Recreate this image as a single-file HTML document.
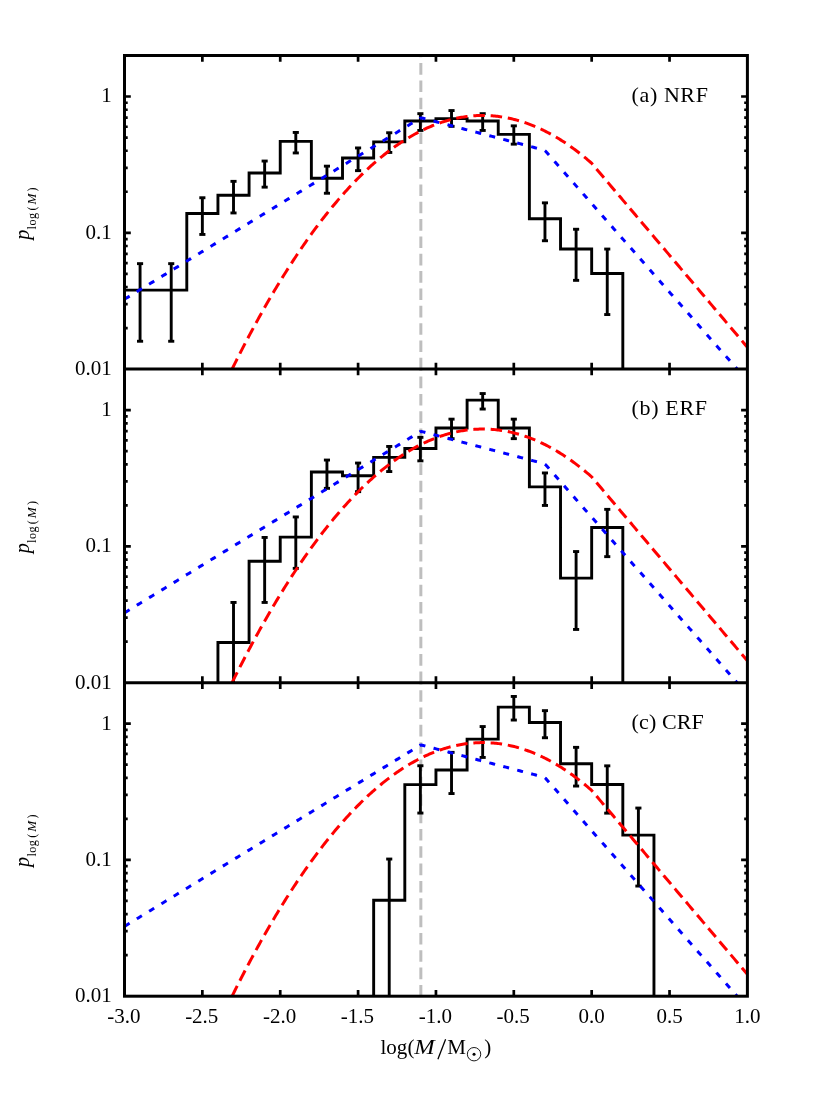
<!DOCTYPE html>
<html><head><meta charset="utf-8"><title>IMF</title>
<style>html,body{margin:0;padding:0;background:#fff}svg{display:block;will-change:transform}</style></head>
<body>
<svg width="830" height="1107" viewBox="0 0 830 1107">
<rect width="830" height="1107" fill="#fff"/>
<g>
<line x1="420.84" y1="369.42" x2="420.84" y2="55.50" stroke="#bebebe" stroke-width="3" stroke-dasharray="11.6 5.74"/>
<path d="M124.50,290.15 L124.50,290.15 L155.65,290.15 L155.65,290.15 L186.79,290.15 L186.79,213.45 L217.94,213.45 L217.94,195.25 L249.08,195.25 L249.08,172.95 L280.23,172.95 L280.23,141.35 L311.37,141.35 L311.37,178.25 L342.51,178.25 L342.51,158.05 L373.66,158.05 L373.66,141.85 L404.81,141.85 L404.81,120.95 L435.95,120.95 L435.95,118.65 L467.10,118.65 L467.10,120.95 L498.24,120.95 L498.24,134.35 L529.38,134.35 L529.38,218.75 L560.53,218.75 L560.53,248.95 L591.67,248.95 L591.67,273.55 L622.82,273.55 L622.82,369.07" fill="none" stroke="#000" stroke-width="2.9" stroke-linejoin="miter"/>
<line x1="140.07" y1="263.65" x2="140.07" y2="341.25" stroke="#000" stroke-width="2.9"/>
<line x1="137.02" y1="263.65" x2="143.12" y2="263.65" stroke="#000" stroke-width="2.9"/>
<line x1="137.02" y1="341.25" x2="143.12" y2="341.25" stroke="#000" stroke-width="2.9"/>
<line x1="171.22" y1="263.65" x2="171.22" y2="341.25" stroke="#000" stroke-width="2.9"/>
<line x1="168.17" y1="263.65" x2="174.27" y2="263.65" stroke="#000" stroke-width="2.9"/>
<line x1="168.17" y1="341.25" x2="174.27" y2="341.25" stroke="#000" stroke-width="2.9"/>
<line x1="202.36" y1="197.75" x2="202.36" y2="234.45" stroke="#000" stroke-width="2.9"/>
<line x1="199.31" y1="197.75" x2="205.41" y2="197.75" stroke="#000" stroke-width="2.9"/>
<line x1="199.31" y1="234.45" x2="205.41" y2="234.45" stroke="#000" stroke-width="2.9"/>
<line x1="233.51" y1="181.35" x2="233.51" y2="212.95" stroke="#000" stroke-width="2.9"/>
<line x1="230.46" y1="181.35" x2="236.56" y2="181.35" stroke="#000" stroke-width="2.9"/>
<line x1="230.46" y1="212.95" x2="236.56" y2="212.95" stroke="#000" stroke-width="2.9"/>
<line x1="264.65" y1="161.05" x2="264.65" y2="187.15" stroke="#000" stroke-width="2.9"/>
<line x1="261.60" y1="161.05" x2="267.70" y2="161.05" stroke="#000" stroke-width="2.9"/>
<line x1="261.60" y1="187.15" x2="267.70" y2="187.15" stroke="#000" stroke-width="2.9"/>
<line x1="295.80" y1="132.45" x2="295.80" y2="152.95" stroke="#000" stroke-width="2.9"/>
<line x1="292.75" y1="132.45" x2="298.85" y2="132.45" stroke="#000" stroke-width="2.9"/>
<line x1="292.75" y1="152.95" x2="298.85" y2="152.95" stroke="#000" stroke-width="2.9"/>
<line x1="326.94" y1="166.15" x2="326.94" y2="193.25" stroke="#000" stroke-width="2.9"/>
<line x1="323.89" y1="166.15" x2="329.99" y2="166.15" stroke="#000" stroke-width="2.9"/>
<line x1="323.89" y1="193.25" x2="329.99" y2="193.25" stroke="#000" stroke-width="2.9"/>
<line x1="358.09" y1="147.95" x2="358.09" y2="170.65" stroke="#000" stroke-width="2.9"/>
<line x1="355.04" y1="147.95" x2="361.14" y2="147.95" stroke="#000" stroke-width="2.9"/>
<line x1="355.04" y1="170.65" x2="361.14" y2="170.65" stroke="#000" stroke-width="2.9"/>
<line x1="389.23" y1="132.75" x2="389.23" y2="152.45" stroke="#000" stroke-width="2.9"/>
<line x1="386.18" y1="132.75" x2="392.28" y2="132.75" stroke="#000" stroke-width="2.9"/>
<line x1="386.18" y1="152.45" x2="392.28" y2="152.45" stroke="#000" stroke-width="2.9"/>
<line x1="420.38" y1="113.65" x2="420.38" y2="130.45" stroke="#000" stroke-width="2.9"/>
<line x1="417.33" y1="113.65" x2="423.43" y2="113.65" stroke="#000" stroke-width="2.9"/>
<line x1="417.33" y1="130.45" x2="423.43" y2="130.45" stroke="#000" stroke-width="2.9"/>
<line x1="451.52" y1="110.55" x2="451.52" y2="126.35" stroke="#000" stroke-width="2.9"/>
<line x1="448.47" y1="110.55" x2="454.57" y2="110.55" stroke="#000" stroke-width="2.9"/>
<line x1="448.47" y1="126.35" x2="454.57" y2="126.35" stroke="#000" stroke-width="2.9"/>
<line x1="482.67" y1="113.65" x2="482.67" y2="130.45" stroke="#000" stroke-width="2.9"/>
<line x1="479.62" y1="113.65" x2="485.72" y2="113.65" stroke="#000" stroke-width="2.9"/>
<line x1="479.62" y1="130.45" x2="485.72" y2="130.45" stroke="#000" stroke-width="2.9"/>
<line x1="513.81" y1="125.85" x2="513.81" y2="144.15" stroke="#000" stroke-width="2.9"/>
<line x1="510.76" y1="125.85" x2="516.86" y2="125.85" stroke="#000" stroke-width="2.9"/>
<line x1="510.76" y1="144.15" x2="516.86" y2="144.15" stroke="#000" stroke-width="2.9"/>
<line x1="544.96" y1="202.85" x2="544.96" y2="240.75" stroke="#000" stroke-width="2.9"/>
<line x1="541.91" y1="202.85" x2="548.01" y2="202.85" stroke="#000" stroke-width="2.9"/>
<line x1="541.91" y1="240.75" x2="548.01" y2="240.75" stroke="#000" stroke-width="2.9"/>
<line x1="576.10" y1="229.25" x2="576.10" y2="280.35" stroke="#000" stroke-width="2.9"/>
<line x1="573.05" y1="229.25" x2="579.15" y2="229.25" stroke="#000" stroke-width="2.9"/>
<line x1="573.05" y1="280.35" x2="579.15" y2="280.35" stroke="#000" stroke-width="2.9"/>
<line x1="607.25" y1="249.05" x2="607.25" y2="314.55" stroke="#000" stroke-width="2.9"/>
<line x1="604.20" y1="249.05" x2="610.30" y2="249.05" stroke="#000" stroke-width="2.9"/>
<line x1="604.20" y1="314.55" x2="610.30" y2="314.55" stroke="#000" stroke-width="2.9"/>
<path d="M124.50,299.24 L126.03,298.31 L127.56,297.37 L129.09,296.43 L130.63,295.49 L132.16,294.55 L133.69,293.61 L135.22,292.68 L136.75,291.74 L138.28,290.80 L139.82,289.86 L141.35,288.92 L142.88,287.99 L144.41,287.05 L145.94,286.11 L147.47,285.17 L149.01,284.23 L150.54,283.29 L152.07,282.36 L153.60,281.42 L155.13,280.48 L156.66,279.54 L158.20,278.60 L159.73,277.67 L161.26,276.73 L162.79,275.79 L164.32,274.85 L165.85,273.91 L167.39,272.97 L168.92,272.04 L170.45,271.10 L171.98,270.16 L173.51,269.22 L175.04,268.28 L176.57,267.35 L178.11,266.41 L179.64,265.47 L181.17,264.53 L182.70,263.59 L184.23,262.65 L185.76,261.72 L187.30,260.78 L188.83,259.84 L190.36,258.90 L191.89,257.96 L193.42,257.02 L194.95,256.09 L196.49,255.15 L198.02,254.21 L199.55,253.27 L201.08,252.33 L202.61,251.40 L204.14,250.46 L205.68,249.52 L207.21,248.58 L208.74,247.64 L210.27,246.70 L211.80,245.77 L213.33,244.83 L214.86,243.89 L216.40,242.95 L217.93,242.01 L219.46,241.08 L220.99,240.14 L222.52,239.20 L224.05,238.26 L225.59,237.32 L227.12,236.38 L228.65,235.45 L230.18,234.51 L231.71,233.57 L233.24,232.63 L234.78,231.69 L236.31,230.76 L237.84,229.82 L239.37,228.88 L240.90,227.94 L242.43,227.00 L243.97,226.06 L245.50,225.13 L247.03,224.19 L248.56,223.25 L250.09,222.31 L251.62,221.37 L253.16,220.44 L254.69,219.50 L256.22,218.56 L257.75,217.62 L259.28,216.68 L260.81,215.74 L262.34,214.81 L263.88,213.87 L265.41,212.93 L266.94,211.99 L268.47,211.05 L270.00,210.11 L271.53,209.18 L273.07,208.24 L274.60,207.30 L276.13,206.36 L277.66,205.42 L279.19,204.49 L280.72,203.55 L282.26,202.61 L283.79,201.67 L285.32,200.73 L286.85,199.79 L288.38,198.86 L289.91,197.92 L291.45,196.98 L292.98,196.04 L294.51,195.10 L296.04,194.17 L297.57,193.23 L299.10,192.29 L300.63,191.35 L302.17,190.41 L303.70,189.47 L305.23,188.54 L306.76,187.60 L308.29,186.66 L309.82,185.72 L311.36,184.78 L312.89,183.85 L314.42,182.91 L315.95,181.97 L317.48,181.03 L319.01,180.09 L320.55,179.15 L322.08,178.22 L323.61,177.28 L325.14,176.34 L326.67,175.40 L328.20,174.46 L329.74,173.53 L331.27,172.59 L332.80,171.65 L334.33,170.71 L335.86,169.77 L337.39,168.83 L338.93,167.90 L340.46,166.96 L341.99,166.02 L343.52,165.08 L345.05,164.14 L346.58,163.20 L348.11,162.27 L349.65,161.33 L351.18,160.39 L352.71,159.45 L354.24,158.51 L355.77,157.58 L357.30,156.64 L358.84,155.70 L360.37,154.76 L361.90,153.82 L363.43,152.88 L364.96,151.95 L366.49,151.01 L368.03,150.07 L369.56,149.13 L371.09,148.19 L372.62,147.26 L374.15,146.32 L375.68,145.38 L377.22,144.44 L378.75,143.50 L380.28,142.56 L381.81,141.63 L383.34,140.69 L384.87,139.75 L386.41,138.81 L387.94,137.87 L389.47,136.94 L391.00,136.00 L392.53,135.06 L394.06,134.12 L395.59,133.18 L397.13,132.24 L398.66,131.31 L400.19,130.37 L401.72,129.43 L403.25,128.49 L404.78,127.55 L406.32,126.62 L407.85,125.68 L409.38,124.74 L410.91,123.80 L412.44,122.86 L413.97,121.92 L415.51,120.99 L417.04,120.05 L418.57,119.11 L420.10,118.17 L421.63,117.92 L423.16,118.32 L424.70,118.73 L426.23,119.13 L427.76,119.53 L429.29,119.93 L430.82,120.33 L432.35,120.74 L433.88,121.14 L435.42,121.54 L436.95,121.94 L438.48,122.35 L440.01,122.75 L441.54,123.15 L443.07,123.55 L444.61,123.95 L446.14,124.36 L447.67,124.76 L449.20,125.16 L450.73,125.56 L452.26,125.96 L453.80,126.37 L455.33,126.77 L456.86,127.17 L458.39,127.57 L459.92,127.97 L461.45,128.38 L462.99,128.78 L464.52,129.18 L466.05,129.58 L467.58,129.98 L469.11,130.39 L470.64,130.79 L472.18,131.19 L473.71,131.59 L475.24,132.00 L476.77,132.40 L478.30,132.80 L479.83,133.20 L481.36,133.60 L482.90,134.01 L484.43,134.41 L485.96,134.81 L487.49,135.21 L489.02,135.61 L490.55,136.02 L492.09,136.42 L493.62,136.82 L495.15,137.22 L496.68,137.62 L498.21,138.03 L499.74,138.43 L501.28,138.83 L502.81,139.23 L504.34,139.63 L505.87,140.04 L507.40,140.44 L508.93,140.84 L510.47,141.24 L512.00,141.65 L513.53,142.05 L515.06,142.45 L516.59,142.85 L518.12,143.25 L519.65,143.66 L521.19,144.06 L522.72,144.46 L524.25,144.86 L525.78,145.26 L527.31,145.67 L528.84,146.07 L530.38,146.47 L531.91,146.87 L533.44,147.27 L534.97,147.68 L536.50,148.08 L538.03,148.48 L539.57,148.88 L541.10,149.28 L542.63,149.69 L544.16,150.09 L545.69,151.27 L547.22,153.01 L548.76,154.76 L550.29,156.50 L551.82,158.24 L553.35,159.98 L554.88,161.72 L556.41,163.47 L557.95,165.21 L559.48,166.95 L561.01,168.69 L562.54,170.44 L564.07,172.18 L565.60,173.92 L567.13,175.66 L568.67,177.41 L570.20,179.15 L571.73,180.89 L573.26,182.63 L574.79,184.38 L576.32,186.12 L577.86,187.86 L579.39,189.60 L580.92,191.34 L582.45,193.09 L583.98,194.83 L585.51,196.57 L587.05,198.31 L588.58,200.06 L590.11,201.80 L591.64,203.54 L593.17,205.28 L594.70,207.03 L596.24,208.77 L597.77,210.51 L599.30,212.25 L600.83,214.00 L602.36,215.74 L603.89,217.48 L605.43,219.22 L606.96,220.97 L608.49,222.71 L610.02,224.45 L611.55,226.19 L613.08,227.93 L614.61,229.68 L616.15,231.42 L617.68,233.16 L619.21,234.90 L620.74,236.65 L622.27,238.39 L623.80,240.13 L625.34,241.87 L626.87,243.62 L628.40,245.36 L629.93,247.10 L631.46,248.84 L632.99,250.59 L634.53,252.33 L636.06,254.07 L637.59,255.81 L639.12,257.55 L640.65,259.30 L642.18,261.04 L643.72,262.78 L645.25,264.52 L646.78,266.27 L648.31,268.01 L649.84,269.75 L651.37,271.49 L652.90,273.24 L654.44,274.98 L655.97,276.72 L657.50,278.46 L659.03,280.21 L660.56,281.95 L662.09,283.69 L663.63,285.43 L665.16,287.18 L666.69,288.92 L668.22,290.66 L669.75,292.40 L671.28,294.14 L672.82,295.89 L674.35,297.63 L675.88,299.37 L677.41,301.11 L678.94,302.86 L680.47,304.60 L682.01,306.34 L683.54,308.08 L685.07,309.83 L686.60,311.57 L688.13,313.31 L689.66,315.05 L691.20,316.80 L692.73,318.54 L694.26,320.28 L695.79,322.02 L697.32,323.77 L698.85,325.51 L700.38,327.25 L701.92,328.99 L703.45,330.73 L704.98,332.48 L706.51,334.22 L708.04,335.96 L709.57,337.70 L711.11,339.45 L712.64,341.19 L714.17,342.93 L715.70,344.67 L717.23,346.42 L718.76,348.16 L720.30,349.90 L721.83,351.64 L723.36,353.39 L724.89,355.13 L726.42,356.87 L727.95,358.61 L729.49,360.35 L731.02,362.10 L732.55,363.84 L734.08,365.58 L735.61,367.32 L737.14,369.07" fill="none" stroke="#0000ff" stroke-width="3" stroke-dasharray="6 8.42"/>
<path d="M232.09,369.07 L233.38,366.47 L234.67,363.88 L235.96,361.31 L237.24,358.75 L238.53,356.20 L239.82,353.67 L241.11,351.15 L242.40,348.65 L243.69,346.16 L244.97,343.68 L246.26,341.21 L247.55,338.76 L248.84,336.32 L250.13,333.90 L251.42,331.48 L252.70,329.09 L253.99,326.70 L255.28,324.33 L256.57,321.97 L257.86,319.63 L259.14,317.29 L260.43,314.98 L261.72,312.67 L263.01,310.38 L264.30,308.10 L265.59,305.84 L266.87,303.59 L268.16,301.35 L269.45,299.12 L270.74,296.91 L272.03,294.72 L273.32,292.53 L274.60,290.36 L275.89,288.20 L277.18,286.06 L278.47,283.93 L279.76,281.81 L281.05,279.71 L282.33,277.62 L283.62,275.54 L284.91,273.48 L286.20,271.43 L287.49,269.39 L288.78,267.37 L290.06,265.36 L291.35,263.36 L292.64,261.38 L293.93,259.41 L295.22,257.45 L296.50,255.51 L297.79,253.58 L299.08,251.66 L300.37,249.76 L301.66,247.87 L302.95,245.99 L304.23,244.13 L305.52,242.28 L306.81,240.44 L308.10,238.62 L309.39,236.81 L310.68,235.01 L311.96,233.23 L313.25,231.46 L314.54,229.71 L315.83,227.96 L317.12,226.24 L318.41,224.52 L319.69,222.82 L320.98,221.13 L322.27,219.45 L323.56,217.79 L324.85,216.14 L326.14,214.51 L327.42,212.89 L328.71,211.28 L330.00,209.68 L331.29,208.10 L332.58,206.53 L333.86,204.98 L335.15,203.44 L336.44,201.91 L337.73,200.39 L339.02,198.89 L340.31,197.40 L341.59,195.93 L342.88,194.47 L344.17,193.02 L345.46,191.59 L346.75,190.17 L348.04,188.76 L349.32,187.36 L350.61,185.98 L351.90,184.62 L353.19,183.26 L354.48,181.92 L355.77,180.59 L357.05,179.28 L358.34,177.98 L359.63,176.69 L360.92,175.42 L362.21,174.16 L363.50,172.91 L364.78,171.68 L366.07,170.46 L367.36,169.25 L368.65,168.06 L369.94,166.88 L371.22,165.71 L372.51,164.56 L373.80,163.42 L375.09,162.29 L376.38,161.18 L377.67,160.08 L378.95,158.99 L380.24,157.92 L381.53,156.86 L382.82,155.81 L384.11,154.78 L385.40,153.76 L386.68,152.76 L387.97,151.76 L389.26,150.78 L390.55,149.82 L391.84,148.87 L393.13,147.93 L394.41,147.00 L395.70,146.09 L396.99,145.19 L398.28,144.31 L399.57,143.43 L400.85,142.58 L402.14,141.73 L403.43,140.90 L404.72,140.08 L406.01,139.27 L407.30,138.48 L408.58,137.70 L409.87,136.94 L411.16,136.19 L412.45,135.45 L413.74,134.73 L415.03,134.01 L416.31,133.32 L417.60,132.63 L418.89,131.96 L420.18,131.30 L421.47,130.66 L422.76,130.03 L424.04,129.41 L425.33,128.81 L426.62,128.21 L427.91,127.64 L429.20,127.07 L430.49,126.52 L431.77,125.99 L433.06,125.46 L434.35,124.95 L435.64,124.45 L436.93,123.97 L438.21,123.50 L439.50,123.04 L440.79,122.60 L442.08,122.17 L443.37,121.75 L444.66,121.35 L445.94,120.96 L447.23,120.58 L448.52,120.22 L449.81,119.87 L451.10,119.53 L452.39,119.21 L453.67,118.90 L454.96,118.60 L456.25,118.32 L457.54,118.05 L458.83,117.80 L460.12,117.55 L461.40,117.32 L462.69,117.11 L463.98,116.90 L465.27,116.72 L466.56,116.54 L467.85,116.38 L469.13,116.23 L470.42,116.09 L471.71,115.97 L473.00,115.86 L474.29,115.77 L475.57,115.68 L476.86,115.62 L478.15,115.56 L479.44,115.52 L480.73,115.49 L482.02,115.48 L483.30,115.47 L484.59,115.49 L485.88,115.51 L487.17,115.55 L488.46,115.60 L489.75,115.67 L491.03,115.74 L492.32,115.84 L493.61,115.94 L494.90,116.06 L496.19,116.19 L497.48,116.34 L498.76,116.50 L500.05,116.67 L501.34,116.86 L502.63,117.05 L503.92,117.27 L505.20,117.49 L506.49,117.73 L507.78,117.99 L509.07,118.25 L510.36,118.53 L511.65,118.82 L512.93,119.13 L514.22,119.45 L515.51,119.78 L516.80,120.13 L518.09,120.49 L519.38,120.86 L520.66,121.25 L521.95,121.65 L523.24,122.06 L524.53,122.49 L525.82,122.93 L527.11,123.38 L528.39,123.85 L529.68,124.33 L530.97,124.82 L532.26,125.33 L533.55,125.85 L534.84,126.39 L536.12,126.93 L537.41,127.49 L538.70,128.07 L539.99,128.65 L541.28,129.26 L542.56,129.87 L543.85,130.50 L545.14,131.14 L546.43,131.79 L547.72,132.46 L549.01,133.14 L550.29,133.84 L551.58,134.54 L552.87,135.27 L554.16,136.00 L555.45,136.75 L556.74,137.51 L558.02,138.28 L559.31,139.07 L560.60,139.87 L561.89,140.69 L563.18,141.52 L564.47,142.36 L565.75,143.22 L567.04,144.08 L568.33,144.97 L569.62,145.86 L570.91,146.77 L572.20,147.69 L573.48,148.63 L574.77,149.58 L576.06,150.54 L577.35,151.51 L578.64,152.50 L579.92,153.51 L581.21,154.52 L582.50,155.55 L583.79,156.59 L585.08,157.65 L586.37,158.72 L587.65,159.80 L588.94,160.90 L590.23,162.01 L591.52,163.13 L592.81,164.61 L594.10,166.13 L595.38,167.65 L596.67,169.17 L597.96,170.69 L599.25,172.22 L600.54,173.74 L601.83,175.26 L603.11,176.78 L604.40,178.30 L605.69,179.83 L606.98,181.35 L608.27,182.87 L609.55,184.39 L610.84,185.91 L612.13,187.43 L613.42,188.96 L614.71,190.48 L616.00,192.00 L617.28,193.52 L618.57,195.04 L619.86,196.57 L621.15,198.09 L622.44,199.61 L623.73,201.13 L625.01,202.65 L626.30,204.18 L627.59,205.70 L628.88,207.22 L630.17,208.74 L631.46,210.26 L632.74,211.79 L634.03,213.31 L635.32,214.83 L636.61,216.35 L637.90,217.87 L639.19,219.40 L640.47,220.92 L641.76,222.44 L643.05,223.96 L644.34,225.48 L645.63,227.00 L646.91,228.53 L648.20,230.05 L649.49,231.57 L650.78,233.09 L652.07,234.61 L653.36,236.14 L654.64,237.66 L655.93,239.18 L657.22,240.70 L658.51,242.22 L659.80,243.75 L661.09,245.27 L662.37,246.79 L663.66,248.31 L664.95,249.83 L666.24,251.36 L667.53,252.88 L668.82,254.40 L670.10,255.92 L671.39,257.44 L672.68,258.96 L673.97,260.49 L675.26,262.01 L676.55,263.53 L677.83,265.05 L679.12,266.57 L680.41,268.10 L681.70,269.62 L682.99,271.14 L684.27,272.66 L685.56,274.18 L686.85,275.71 L688.14,277.23 L689.43,278.75 L690.72,280.27 L692.00,281.79 L693.29,283.32 L694.58,284.84 L695.87,286.36 L697.16,287.88 L698.45,289.40 L699.73,290.93 L701.02,292.45 L702.31,293.97 L703.60,295.49 L704.89,297.01 L706.18,298.53 L707.46,300.06 L708.75,301.58 L710.04,303.10 L711.33,304.62 L712.62,306.14 L713.90,307.67 L715.19,309.19 L716.48,310.71 L717.77,312.23 L719.06,313.75 L720.35,315.28 L721.63,316.80 L722.92,318.32 L724.21,319.84 L725.50,321.36 L726.79,322.89 L728.08,324.41 L729.36,325.93 L730.65,327.45 L731.94,328.97 L733.23,330.50 L734.52,332.02 L735.81,333.54 L737.09,335.06 L738.38,336.58 L739.67,338.10 L740.96,339.63 L742.25,341.15 L743.54,342.67 L744.82,344.19 L746.11,345.71 L747.40,347.24" fill="none" stroke="#ff0000" stroke-width="3" stroke-dasharray="11.5 5.81"/>
</g>
<g>
<line x1="420.84" y1="682.98" x2="420.84" y2="369.07" stroke="#bebebe" stroke-width="3" stroke-dasharray="11.6 5.74"/>
<path d="M217.94,682.63 L217.94,642.45 L217.94,642.45 L249.08,642.45 L249.08,561.25 L280.23,561.25 L280.23,537.15 L311.37,537.15 L311.37,471.95 L342.51,471.95 L342.51,475.75 L373.66,475.75 L373.66,457.35 L404.81,457.35 L404.81,448.55 L435.95,448.55 L435.95,427.95 L467.10,427.95 L467.10,400.15 L498.24,400.15 L498.24,427.95 L529.38,427.95 L529.38,486.85 L560.53,486.85 L560.53,578.15 L591.67,578.15 L591.67,527.55 L622.82,527.55 L622.82,682.63" fill="none" stroke="#000" stroke-width="2.9" stroke-linejoin="miter"/>
<line x1="233.51" y1="602.45" x2="233.51" y2="682.63" stroke="#000" stroke-width="2.9"/>
<line x1="230.46" y1="602.45" x2="236.56" y2="602.45" stroke="#000" stroke-width="2.9"/>
<line x1="264.65" y1="537.45" x2="264.65" y2="602.45" stroke="#000" stroke-width="2.9"/>
<line x1="261.60" y1="537.45" x2="267.70" y2="537.45" stroke="#000" stroke-width="2.9"/>
<line x1="261.60" y1="602.45" x2="267.70" y2="602.45" stroke="#000" stroke-width="2.9"/>
<line x1="295.80" y1="516.95" x2="295.80" y2="568.35" stroke="#000" stroke-width="2.9"/>
<line x1="292.75" y1="516.95" x2="298.85" y2="516.95" stroke="#000" stroke-width="2.9"/>
<line x1="292.75" y1="568.35" x2="298.85" y2="568.35" stroke="#000" stroke-width="2.9"/>
<line x1="326.94" y1="460.05" x2="326.94" y2="488.35" stroke="#000" stroke-width="2.9"/>
<line x1="323.89" y1="460.05" x2="329.99" y2="460.05" stroke="#000" stroke-width="2.9"/>
<line x1="323.89" y1="488.35" x2="329.99" y2="488.35" stroke="#000" stroke-width="2.9"/>
<line x1="358.09" y1="463.05" x2="358.09" y2="491.65" stroke="#000" stroke-width="2.9"/>
<line x1="355.04" y1="463.05" x2="361.14" y2="463.05" stroke="#000" stroke-width="2.9"/>
<line x1="355.04" y1="491.65" x2="361.14" y2="491.65" stroke="#000" stroke-width="2.9"/>
<line x1="389.23" y1="446.45" x2="389.23" y2="471.55" stroke="#000" stroke-width="2.9"/>
<line x1="386.18" y1="446.45" x2="392.28" y2="446.45" stroke="#000" stroke-width="2.9"/>
<line x1="386.18" y1="471.55" x2="392.28" y2="471.55" stroke="#000" stroke-width="2.9"/>
<line x1="420.38" y1="437.35" x2="420.38" y2="460.85" stroke="#000" stroke-width="2.9"/>
<line x1="417.33" y1="437.35" x2="423.43" y2="437.35" stroke="#000" stroke-width="2.9"/>
<line x1="417.33" y1="460.85" x2="423.43" y2="460.85" stroke="#000" stroke-width="2.9"/>
<line x1="451.52" y1="419.15" x2="451.52" y2="438.65" stroke="#000" stroke-width="2.9"/>
<line x1="448.47" y1="419.15" x2="454.57" y2="419.15" stroke="#000" stroke-width="2.9"/>
<line x1="448.47" y1="438.65" x2="454.57" y2="438.65" stroke="#000" stroke-width="2.9"/>
<line x1="482.67" y1="393.55" x2="482.67" y2="409.05" stroke="#000" stroke-width="2.9"/>
<line x1="479.62" y1="393.55" x2="485.72" y2="393.55" stroke="#000" stroke-width="2.9"/>
<line x1="479.62" y1="409.05" x2="485.72" y2="409.05" stroke="#000" stroke-width="2.9"/>
<line x1="513.81" y1="419.15" x2="513.81" y2="438.65" stroke="#000" stroke-width="2.9"/>
<line x1="510.76" y1="419.15" x2="516.86" y2="419.15" stroke="#000" stroke-width="2.9"/>
<line x1="510.76" y1="438.65" x2="516.86" y2="438.65" stroke="#000" stroke-width="2.9"/>
<line x1="544.96" y1="472.95" x2="544.96" y2="505.45" stroke="#000" stroke-width="2.9"/>
<line x1="541.91" y1="472.95" x2="548.01" y2="472.95" stroke="#000" stroke-width="2.9"/>
<line x1="541.91" y1="505.45" x2="548.01" y2="505.45" stroke="#000" stroke-width="2.9"/>
<line x1="576.10" y1="551.55" x2="576.10" y2="629.45" stroke="#000" stroke-width="2.9"/>
<line x1="573.05" y1="551.55" x2="579.15" y2="551.55" stroke="#000" stroke-width="2.9"/>
<line x1="573.05" y1="629.45" x2="579.15" y2="629.45" stroke="#000" stroke-width="2.9"/>
<line x1="607.25" y1="509.35" x2="607.25" y2="556.65" stroke="#000" stroke-width="2.9"/>
<line x1="604.20" y1="509.35" x2="610.30" y2="509.35" stroke="#000" stroke-width="2.9"/>
<line x1="604.20" y1="556.65" x2="610.30" y2="556.65" stroke="#000" stroke-width="2.9"/>
<path d="M124.50,612.81 L126.03,611.87 L127.56,610.93 L129.09,610.00 L130.63,609.06 L132.16,608.12 L133.69,607.18 L135.22,606.24 L136.75,605.30 L138.28,604.37 L139.82,603.43 L141.35,602.49 L142.88,601.55 L144.41,600.61 L145.94,599.68 L147.47,598.74 L149.01,597.80 L150.54,596.86 L152.07,595.92 L153.60,594.98 L155.13,594.05 L156.66,593.11 L158.20,592.17 L159.73,591.23 L161.26,590.29 L162.79,589.36 L164.32,588.42 L165.85,587.48 L167.39,586.54 L168.92,585.60 L170.45,584.66 L171.98,583.73 L173.51,582.79 L175.04,581.85 L176.57,580.91 L178.11,579.97 L179.64,579.04 L181.17,578.10 L182.70,577.16 L184.23,576.22 L185.76,575.28 L187.30,574.34 L188.83,573.41 L190.36,572.47 L191.89,571.53 L193.42,570.59 L194.95,569.65 L196.49,568.72 L198.02,567.78 L199.55,566.84 L201.08,565.90 L202.61,564.96 L204.14,564.02 L205.68,563.09 L207.21,562.15 L208.74,561.21 L210.27,560.27 L211.80,559.33 L213.33,558.39 L214.86,557.46 L216.40,556.52 L217.93,555.58 L219.46,554.64 L220.99,553.70 L222.52,552.77 L224.05,551.83 L225.59,550.89 L227.12,549.95 L228.65,549.01 L230.18,548.07 L231.71,547.14 L233.24,546.20 L234.78,545.26 L236.31,544.32 L237.84,543.38 L239.37,542.45 L240.90,541.51 L242.43,540.57 L243.97,539.63 L245.50,538.69 L247.03,537.75 L248.56,536.82 L250.09,535.88 L251.62,534.94 L253.16,534.00 L254.69,533.06 L256.22,532.13 L257.75,531.19 L259.28,530.25 L260.81,529.31 L262.34,528.37 L263.88,527.43 L265.41,526.50 L266.94,525.56 L268.47,524.62 L270.00,523.68 L271.53,522.74 L273.07,521.81 L274.60,520.87 L276.13,519.93 L277.66,518.99 L279.19,518.05 L280.72,517.11 L282.26,516.18 L283.79,515.24 L285.32,514.30 L286.85,513.36 L288.38,512.42 L289.91,511.48 L291.45,510.55 L292.98,509.61 L294.51,508.67 L296.04,507.73 L297.57,506.79 L299.10,505.86 L300.63,504.92 L302.17,503.98 L303.70,503.04 L305.23,502.10 L306.76,501.16 L308.29,500.23 L309.82,499.29 L311.36,498.35 L312.89,497.41 L314.42,496.47 L315.95,495.54 L317.48,494.60 L319.01,493.66 L320.55,492.72 L322.08,491.78 L323.61,490.84 L325.14,489.91 L326.67,488.97 L328.20,488.03 L329.74,487.09 L331.27,486.15 L332.80,485.22 L334.33,484.28 L335.86,483.34 L337.39,482.40 L338.93,481.46 L340.46,480.52 L341.99,479.59 L343.52,478.65 L345.05,477.71 L346.58,476.77 L348.11,475.83 L349.65,474.90 L351.18,473.96 L352.71,473.02 L354.24,472.08 L355.77,471.14 L357.30,470.20 L358.84,469.27 L360.37,468.33 L361.90,467.39 L363.43,466.45 L364.96,465.51 L366.49,464.58 L368.03,463.64 L369.56,462.70 L371.09,461.76 L372.62,460.82 L374.15,459.88 L375.68,458.95 L377.22,458.01 L378.75,457.07 L380.28,456.13 L381.81,455.19 L383.34,454.25 L384.87,453.32 L386.41,452.38 L387.94,451.44 L389.47,450.50 L391.00,449.56 L392.53,448.63 L394.06,447.69 L395.59,446.75 L397.13,445.81 L398.66,444.87 L400.19,443.93 L401.72,443.00 L403.25,442.06 L404.78,441.12 L406.32,440.18 L407.85,439.24 L409.38,438.31 L410.91,437.37 L412.44,436.43 L413.97,435.49 L415.51,434.55 L417.04,433.61 L418.57,432.68 L420.10,431.74 L421.63,431.49 L423.16,431.89 L424.70,432.29 L426.23,432.70 L427.76,433.10 L429.29,433.50 L430.82,433.90 L432.35,434.30 L433.88,434.71 L435.42,435.11 L436.95,435.51 L438.48,435.91 L440.01,436.31 L441.54,436.72 L443.07,437.12 L444.61,437.52 L446.14,437.92 L447.67,438.32 L449.20,438.73 L450.73,439.13 L452.26,439.53 L453.80,439.93 L455.33,440.33 L456.86,440.74 L458.39,441.14 L459.92,441.54 L461.45,441.94 L462.99,442.35 L464.52,442.75 L466.05,443.15 L467.58,443.55 L469.11,443.95 L470.64,444.36 L472.18,444.76 L473.71,445.16 L475.24,445.56 L476.77,445.96 L478.30,446.37 L479.83,446.77 L481.36,447.17 L482.90,447.57 L484.43,447.97 L485.96,448.38 L487.49,448.78 L489.02,449.18 L490.55,449.58 L492.09,449.98 L493.62,450.39 L495.15,450.79 L496.68,451.19 L498.21,451.59 L499.74,452.00 L501.28,452.40 L502.81,452.80 L504.34,453.20 L505.87,453.60 L507.40,454.01 L508.93,454.41 L510.47,454.81 L512.00,455.21 L513.53,455.61 L515.06,456.02 L516.59,456.42 L518.12,456.82 L519.65,457.22 L521.19,457.62 L522.72,458.03 L524.25,458.43 L525.78,458.83 L527.31,459.23 L528.84,459.63 L530.38,460.04 L531.91,460.44 L533.44,460.84 L534.97,461.24 L536.50,461.65 L538.03,462.05 L539.57,462.45 L541.10,462.85 L542.63,463.25 L544.16,463.66 L545.69,464.84 L547.22,466.58 L548.76,468.32 L550.29,470.06 L551.82,471.81 L553.35,473.55 L554.88,475.29 L556.41,477.03 L557.95,478.78 L559.48,480.52 L561.01,482.26 L562.54,484.00 L564.07,485.75 L565.60,487.49 L567.13,489.23 L568.67,490.97 L570.20,492.72 L571.73,494.46 L573.26,496.20 L574.79,497.94 L576.32,499.68 L577.86,501.43 L579.39,503.17 L580.92,504.91 L582.45,506.65 L583.98,508.40 L585.51,510.14 L587.05,511.88 L588.58,513.62 L590.11,515.37 L591.64,517.11 L593.17,518.85 L594.70,520.59 L596.24,522.34 L597.77,524.08 L599.30,525.82 L600.83,527.56 L602.36,529.30 L603.89,531.05 L605.43,532.79 L606.96,534.53 L608.49,536.27 L610.02,538.02 L611.55,539.76 L613.08,541.50 L614.61,543.24 L616.15,544.99 L617.68,546.73 L619.21,548.47 L620.74,550.21 L622.27,551.96 L623.80,553.70 L625.34,555.44 L626.87,557.18 L628.40,558.93 L629.93,560.67 L631.46,562.41 L632.99,564.15 L634.53,565.89 L636.06,567.64 L637.59,569.38 L639.12,571.12 L640.65,572.86 L642.18,574.61 L643.72,576.35 L645.25,578.09 L646.78,579.83 L648.31,581.58 L649.84,583.32 L651.37,585.06 L652.90,586.80 L654.44,588.55 L655.97,590.29 L657.50,592.03 L659.03,593.77 L660.56,595.51 L662.09,597.26 L663.63,599.00 L665.16,600.74 L666.69,602.48 L668.22,604.23 L669.75,605.97 L671.28,607.71 L672.82,609.45 L674.35,611.20 L675.88,612.94 L677.41,614.68 L678.94,616.42 L680.47,618.17 L682.01,619.91 L683.54,621.65 L685.07,623.39 L686.60,625.14 L688.13,626.88 L689.66,628.62 L691.20,630.36 L692.73,632.10 L694.26,633.85 L695.79,635.59 L697.32,637.33 L698.85,639.07 L700.38,640.82 L701.92,642.56 L703.45,644.30 L704.98,646.04 L706.51,647.79 L708.04,649.53 L709.57,651.27 L711.11,653.01 L712.64,654.76 L714.17,656.50 L715.70,658.24 L717.23,659.98 L718.76,661.72 L720.30,663.47 L721.83,665.21 L723.36,666.95 L724.89,668.69 L726.42,670.44 L727.95,672.18 L729.49,673.92 L731.02,675.66 L732.55,677.41 L734.08,679.15 L735.61,680.89 L737.14,682.63" fill="none" stroke="#0000ff" stroke-width="3" stroke-dasharray="6 8.42"/>
<path d="M232.09,682.63 L233.38,680.03 L234.67,677.45 L235.96,674.88 L237.24,672.32 L238.53,669.77 L239.82,667.24 L241.11,664.72 L242.40,662.21 L243.69,659.72 L244.97,657.24 L246.26,654.78 L247.55,652.33 L248.84,649.89 L250.13,647.46 L251.42,645.05 L252.70,642.65 L253.99,640.27 L255.28,637.90 L256.57,635.54 L257.86,633.19 L259.14,630.86 L260.43,628.54 L261.72,626.24 L263.01,623.95 L264.30,621.67 L265.59,619.40 L266.87,617.15 L268.16,614.92 L269.45,612.69 L270.74,610.48 L272.03,608.28 L273.32,606.10 L274.60,603.93 L275.89,601.77 L277.18,599.63 L278.47,597.50 L279.76,595.38 L281.05,593.27 L282.33,591.18 L283.62,589.11 L284.91,587.04 L286.20,584.99 L287.49,582.96 L288.78,580.93 L290.06,578.92 L291.35,576.93 L292.64,574.94 L293.93,572.97 L295.22,571.02 L296.50,569.07 L297.79,567.14 L299.08,565.23 L300.37,563.32 L301.66,561.43 L302.95,559.56 L304.23,557.69 L305.52,555.85 L306.81,554.01 L308.10,552.19 L309.39,550.38 L310.68,548.58 L311.96,546.80 L313.25,545.03 L314.54,543.27 L315.83,541.53 L317.12,539.80 L318.41,538.09 L319.69,536.38 L320.98,534.70 L322.27,533.02 L323.56,531.36 L324.85,529.71 L326.14,528.07 L327.42,526.45 L328.71,524.84 L330.00,523.25 L331.29,521.67 L332.58,520.10 L333.86,518.54 L335.15,517.00 L336.44,515.48 L337.73,513.96 L339.02,512.46 L340.31,510.97 L341.59,509.50 L342.88,508.04 L344.17,506.59 L345.46,505.15 L346.75,503.73 L348.04,502.32 L349.32,500.93 L350.61,499.55 L351.90,498.18 L353.19,496.83 L354.48,495.49 L355.77,494.16 L357.05,492.85 L358.34,491.55 L359.63,490.26 L360.92,488.99 L362.21,487.73 L363.50,486.48 L364.78,485.24 L366.07,484.02 L367.36,482.82 L368.65,481.62 L369.94,480.44 L371.22,479.28 L372.51,478.12 L373.80,476.98 L375.09,475.86 L376.38,474.75 L377.67,473.65 L378.95,472.56 L380.24,471.49 L381.53,470.43 L382.82,469.38 L384.11,468.35 L385.40,467.33 L386.68,466.32 L387.97,465.33 L389.26,464.35 L390.55,463.39 L391.84,462.43 L393.13,461.49 L394.41,460.57 L395.70,459.66 L396.99,458.76 L398.28,457.87 L399.57,457.00 L400.85,456.14 L402.14,455.30 L403.43,454.46 L404.72,453.65 L406.01,452.84 L407.30,452.05 L408.58,451.27 L409.87,450.51 L411.16,449.75 L412.45,449.02 L413.74,448.29 L415.03,447.58 L416.31,446.88 L417.60,446.20 L418.89,445.53 L420.18,444.87 L421.47,444.22 L422.76,443.59 L424.04,442.98 L425.33,442.37 L426.62,441.78 L427.91,441.20 L429.20,440.64 L430.49,440.09 L431.77,439.55 L433.06,439.03 L434.35,438.52 L435.64,438.02 L436.93,437.54 L438.21,437.07 L439.50,436.61 L440.79,436.17 L442.08,435.74 L443.37,435.32 L444.66,434.92 L445.94,434.53 L447.23,434.15 L448.52,433.79 L449.81,433.44 L451.10,433.10 L452.39,432.78 L453.67,432.47 L454.96,432.17 L456.25,431.89 L457.54,431.62 L458.83,431.36 L460.12,431.12 L461.40,430.89 L462.69,430.67 L463.98,430.47 L465.27,430.28 L466.56,430.11 L467.85,429.94 L469.13,429.80 L470.42,429.66 L471.71,429.54 L473.00,429.43 L474.29,429.33 L475.57,429.25 L476.86,429.18 L478.15,429.13 L479.44,429.09 L480.73,429.06 L482.02,429.04 L483.30,429.04 L484.59,429.05 L485.88,429.08 L487.17,429.12 L488.46,429.17 L489.75,429.23 L491.03,429.31 L492.32,429.40 L493.61,429.51 L494.90,429.63 L496.19,429.76 L497.48,429.91 L498.76,430.06 L500.05,430.24 L501.34,430.42 L502.63,430.62 L503.92,430.83 L505.20,431.06 L506.49,431.30 L507.78,431.55 L509.07,431.82 L510.36,432.10 L511.65,432.39 L512.93,432.70 L514.22,433.02 L515.51,433.35 L516.80,433.70 L518.09,434.06 L519.38,434.43 L520.66,434.82 L521.95,435.22 L523.24,435.63 L524.53,436.06 L525.82,436.50 L527.11,436.95 L528.39,437.42 L529.68,437.90 L530.97,438.39 L532.26,438.90 L533.55,439.42 L534.84,439.95 L536.12,440.50 L537.41,441.06 L538.70,441.63 L539.99,442.22 L541.28,442.82 L542.56,443.44 L543.85,444.06 L545.14,444.70 L546.43,445.36 L547.72,446.03 L549.01,446.71 L550.29,447.40 L551.58,448.11 L552.87,448.83 L554.16,449.57 L555.45,450.31 L556.74,451.08 L558.02,451.85 L559.31,452.64 L560.60,453.44 L561.89,454.26 L563.18,455.08 L564.47,455.93 L565.75,456.78 L567.04,457.65 L568.33,458.53 L569.62,459.43 L570.91,460.34 L572.20,461.26 L573.48,462.19 L574.77,463.14 L576.06,464.11 L577.35,465.08 L578.64,466.07 L579.92,467.07 L581.21,468.09 L582.50,469.12 L583.79,470.16 L585.08,471.22 L586.37,472.29 L587.65,473.37 L588.94,474.47 L590.23,475.58 L591.52,476.70 L592.81,478.17 L594.10,479.69 L595.38,481.22 L596.67,482.74 L597.96,484.26 L599.25,485.78 L600.54,487.30 L601.83,488.83 L603.11,490.35 L604.40,491.87 L605.69,493.39 L606.98,494.91 L608.27,496.44 L609.55,497.96 L610.84,499.48 L612.13,501.00 L613.42,502.52 L614.71,504.05 L616.00,505.57 L617.28,507.09 L618.57,508.61 L619.86,510.13 L621.15,511.66 L622.44,513.18 L623.73,514.70 L625.01,516.22 L626.30,517.74 L627.59,519.26 L628.88,520.79 L630.17,522.31 L631.46,523.83 L632.74,525.35 L634.03,526.87 L635.32,528.40 L636.61,529.92 L637.90,531.44 L639.19,532.96 L640.47,534.48 L641.76,536.01 L643.05,537.53 L644.34,539.05 L645.63,540.57 L646.91,542.09 L648.20,543.62 L649.49,545.14 L650.78,546.66 L652.07,548.18 L653.36,549.70 L654.64,551.22 L655.93,552.75 L657.22,554.27 L658.51,555.79 L659.80,557.31 L661.09,558.83 L662.37,560.36 L663.66,561.88 L664.95,563.40 L666.24,564.92 L667.53,566.44 L668.82,567.97 L670.10,569.49 L671.39,571.01 L672.68,572.53 L673.97,574.05 L675.26,575.58 L676.55,577.10 L677.83,578.62 L679.12,580.14 L680.41,581.66 L681.70,583.19 L682.99,584.71 L684.27,586.23 L685.56,587.75 L686.85,589.27 L688.14,590.79 L689.43,592.32 L690.72,593.84 L692.00,595.36 L693.29,596.88 L694.58,598.40 L695.87,599.93 L697.16,601.45 L698.45,602.97 L699.73,604.49 L701.02,606.01 L702.31,607.54 L703.60,609.06 L704.89,610.58 L706.18,612.10 L707.46,613.62 L708.75,615.15 L710.04,616.67 L711.33,618.19 L712.62,619.71 L713.90,621.23 L715.19,622.75 L716.48,624.28 L717.77,625.80 L719.06,627.32 L720.35,628.84 L721.63,630.36 L722.92,631.89 L724.21,633.41 L725.50,634.93 L726.79,636.45 L728.08,637.97 L729.36,639.50 L730.65,641.02 L731.94,642.54 L733.23,644.06 L734.52,645.58 L735.81,647.11 L737.09,648.63 L738.38,650.15 L739.67,651.67 L740.96,653.19 L742.25,654.72 L743.54,656.24 L744.82,657.76 L746.11,659.28 L747.40,660.80" fill="none" stroke="#ff0000" stroke-width="3" stroke-dasharray="11.5 5.81"/>
</g>
<g>
<line x1="420.84" y1="996.55" x2="420.84" y2="682.63" stroke="#bebebe" stroke-width="3" stroke-dasharray="11.6 5.74"/>
<path d="M373.66,996.20 L373.66,900.25 L373.66,900.25 L404.81,900.25 L404.81,784.65 L435.95,784.65 L435.95,770.05 L467.10,770.05 L467.10,739.15 L498.24,739.15 L498.24,707.15 L529.38,707.15 L529.38,722.55 L560.53,722.55 L560.53,763.75 L591.67,763.75 L591.67,784.55 L622.82,784.55 L622.82,835.15 L653.96,835.15 L653.96,996.20" fill="none" stroke="#000" stroke-width="2.9" stroke-linejoin="miter"/>
<line x1="389.23" y1="859.05" x2="389.23" y2="996.20" stroke="#000" stroke-width="2.9"/>
<line x1="386.18" y1="859.05" x2="392.28" y2="859.05" stroke="#000" stroke-width="2.9"/>
<line x1="420.38" y1="765.75" x2="420.38" y2="813.05" stroke="#000" stroke-width="2.9"/>
<line x1="417.33" y1="765.75" x2="423.43" y2="765.75" stroke="#000" stroke-width="2.9"/>
<line x1="417.33" y1="813.05" x2="423.43" y2="813.05" stroke="#000" stroke-width="2.9"/>
<line x1="451.52" y1="752.35" x2="451.52" y2="793.55" stroke="#000" stroke-width="2.9"/>
<line x1="448.47" y1="752.35" x2="454.57" y2="752.35" stroke="#000" stroke-width="2.9"/>
<line x1="448.47" y1="793.55" x2="454.57" y2="793.55" stroke="#000" stroke-width="2.9"/>
<line x1="482.67" y1="726.55" x2="482.67" y2="757.45" stroke="#000" stroke-width="2.9"/>
<line x1="479.62" y1="726.55" x2="485.72" y2="726.55" stroke="#000" stroke-width="2.9"/>
<line x1="479.62" y1="757.45" x2="485.72" y2="757.45" stroke="#000" stroke-width="2.9"/>
<line x1="513.81" y1="696.45" x2="513.81" y2="720.05" stroke="#000" stroke-width="2.9"/>
<line x1="510.76" y1="696.45" x2="516.86" y2="696.45" stroke="#000" stroke-width="2.9"/>
<line x1="510.76" y1="720.05" x2="516.86" y2="720.05" stroke="#000" stroke-width="2.9"/>
<line x1="544.96" y1="710.65" x2="544.96" y2="737.75" stroke="#000" stroke-width="2.9"/>
<line x1="541.91" y1="710.65" x2="548.01" y2="710.65" stroke="#000" stroke-width="2.9"/>
<line x1="541.91" y1="737.75" x2="548.01" y2="737.75" stroke="#000" stroke-width="2.9"/>
<line x1="576.10" y1="747.35" x2="576.10" y2="786.05" stroke="#000" stroke-width="2.9"/>
<line x1="573.05" y1="747.35" x2="579.15" y2="747.35" stroke="#000" stroke-width="2.9"/>
<line x1="573.05" y1="786.05" x2="579.15" y2="786.05" stroke="#000" stroke-width="2.9"/>
<line x1="607.25" y1="765.85" x2="607.25" y2="813.15" stroke="#000" stroke-width="2.9"/>
<line x1="604.20" y1="765.85" x2="610.30" y2="765.85" stroke="#000" stroke-width="2.9"/>
<line x1="604.20" y1="813.15" x2="610.30" y2="813.15" stroke="#000" stroke-width="2.9"/>
<line x1="638.39" y1="808.05" x2="638.39" y2="886.05" stroke="#000" stroke-width="2.9"/>
<line x1="635.34" y1="808.05" x2="641.44" y2="808.05" stroke="#000" stroke-width="2.9"/>
<line x1="635.34" y1="886.05" x2="641.44" y2="886.05" stroke="#000" stroke-width="2.9"/>
<path d="M124.50,926.38 L126.03,925.44 L127.56,924.50 L129.09,923.56 L130.63,922.62 L132.16,921.69 L133.69,920.75 L135.22,919.81 L136.75,918.87 L138.28,917.93 L139.82,917.00 L141.35,916.06 L142.88,915.12 L144.41,914.18 L145.94,913.24 L147.47,912.30 L149.01,911.37 L150.54,910.43 L152.07,909.49 L153.60,908.55 L155.13,907.61 L156.66,906.67 L158.20,905.74 L159.73,904.80 L161.26,903.86 L162.79,902.92 L164.32,901.98 L165.85,901.05 L167.39,900.11 L168.92,899.17 L170.45,898.23 L171.98,897.29 L173.51,896.35 L175.04,895.42 L176.57,894.48 L178.11,893.54 L179.64,892.60 L181.17,891.66 L182.70,890.73 L184.23,889.79 L185.76,888.85 L187.30,887.91 L188.83,886.97 L190.36,886.03 L191.89,885.10 L193.42,884.16 L194.95,883.22 L196.49,882.28 L198.02,881.34 L199.55,880.41 L201.08,879.47 L202.61,878.53 L204.14,877.59 L205.68,876.65 L207.21,875.71 L208.74,874.78 L210.27,873.84 L211.80,872.90 L213.33,871.96 L214.86,871.02 L216.40,870.09 L217.93,869.15 L219.46,868.21 L220.99,867.27 L222.52,866.33 L224.05,865.39 L225.59,864.46 L227.12,863.52 L228.65,862.58 L230.18,861.64 L231.71,860.70 L233.24,859.77 L234.78,858.83 L236.31,857.89 L237.84,856.95 L239.37,856.01 L240.90,855.07 L242.43,854.14 L243.97,853.20 L245.50,852.26 L247.03,851.32 L248.56,850.38 L250.09,849.44 L251.62,848.51 L253.16,847.57 L254.69,846.63 L256.22,845.69 L257.75,844.75 L259.28,843.82 L260.81,842.88 L262.34,841.94 L263.88,841.00 L265.41,840.06 L266.94,839.12 L268.47,838.19 L270.00,837.25 L271.53,836.31 L273.07,835.37 L274.60,834.43 L276.13,833.50 L277.66,832.56 L279.19,831.62 L280.72,830.68 L282.26,829.74 L283.79,828.80 L285.32,827.87 L286.85,826.93 L288.38,825.99 L289.91,825.05 L291.45,824.11 L292.98,823.18 L294.51,822.24 L296.04,821.30 L297.57,820.36 L299.10,819.42 L300.63,818.48 L302.17,817.55 L303.70,816.61 L305.23,815.67 L306.76,814.73 L308.29,813.79 L309.82,812.86 L311.36,811.92 L312.89,810.98 L314.42,810.04 L315.95,809.10 L317.48,808.16 L319.01,807.23 L320.55,806.29 L322.08,805.35 L323.61,804.41 L325.14,803.47 L326.67,802.53 L328.20,801.60 L329.74,800.66 L331.27,799.72 L332.80,798.78 L334.33,797.84 L335.86,796.91 L337.39,795.97 L338.93,795.03 L340.46,794.09 L341.99,793.15 L343.52,792.21 L345.05,791.28 L346.58,790.34 L348.11,789.40 L349.65,788.46 L351.18,787.52 L352.71,786.59 L354.24,785.65 L355.77,784.71 L357.30,783.77 L358.84,782.83 L360.37,781.89 L361.90,780.96 L363.43,780.02 L364.96,779.08 L366.49,778.14 L368.03,777.20 L369.56,776.27 L371.09,775.33 L372.62,774.39 L374.15,773.45 L375.68,772.51 L377.22,771.57 L378.75,770.64 L380.28,769.70 L381.81,768.76 L383.34,767.82 L384.87,766.88 L386.41,765.95 L387.94,765.01 L389.47,764.07 L391.00,763.13 L392.53,762.19 L394.06,761.25 L395.59,760.32 L397.13,759.38 L398.66,758.44 L400.19,757.50 L401.72,756.56 L403.25,755.62 L404.78,754.69 L406.32,753.75 L407.85,752.81 L409.38,751.87 L410.91,750.93 L412.44,750.00 L413.97,749.06 L415.51,748.12 L417.04,747.18 L418.57,746.24 L420.10,745.30 L421.63,745.06 L423.16,745.46 L424.70,745.86 L426.23,746.26 L427.76,746.66 L429.29,747.07 L430.82,747.47 L432.35,747.87 L433.88,748.27 L435.42,748.67 L436.95,749.08 L438.48,749.48 L440.01,749.88 L441.54,750.28 L443.07,750.68 L444.61,751.09 L446.14,751.49 L447.67,751.89 L449.20,752.29 L450.73,752.70 L452.26,753.10 L453.80,753.50 L455.33,753.90 L456.86,754.30 L458.39,754.71 L459.92,755.11 L461.45,755.51 L462.99,755.91 L464.52,756.31 L466.05,756.72 L467.58,757.12 L469.11,757.52 L470.64,757.92 L472.18,758.32 L473.71,758.73 L475.24,759.13 L476.77,759.53 L478.30,759.93 L479.83,760.33 L481.36,760.74 L482.90,761.14 L484.43,761.54 L485.96,761.94 L487.49,762.35 L489.02,762.75 L490.55,763.15 L492.09,763.55 L493.62,763.95 L495.15,764.36 L496.68,764.76 L498.21,765.16 L499.74,765.56 L501.28,765.96 L502.81,766.37 L504.34,766.77 L505.87,767.17 L507.40,767.57 L508.93,767.97 L510.47,768.38 L512.00,768.78 L513.53,769.18 L515.06,769.58 L516.59,769.98 L518.12,770.39 L519.65,770.79 L521.19,771.19 L522.72,771.59 L524.25,772.00 L525.78,772.40 L527.31,772.80 L528.84,773.20 L530.38,773.60 L531.91,774.01 L533.44,774.41 L534.97,774.81 L536.50,775.21 L538.03,775.61 L539.57,776.02 L541.10,776.42 L542.63,776.82 L544.16,777.22 L545.69,778.40 L547.22,780.15 L548.76,781.89 L550.29,783.63 L551.82,785.37 L553.35,787.12 L554.88,788.86 L556.41,790.60 L557.95,792.34 L559.48,794.09 L561.01,795.83 L562.54,797.57 L564.07,799.31 L565.60,801.05 L567.13,802.80 L568.67,804.54 L570.20,806.28 L571.73,808.02 L573.26,809.77 L574.79,811.51 L576.32,813.25 L577.86,814.99 L579.39,816.74 L580.92,818.48 L582.45,820.22 L583.98,821.96 L585.51,823.71 L587.05,825.45 L588.58,827.19 L590.11,828.93 L591.64,830.67 L593.17,832.42 L594.70,834.16 L596.24,835.90 L597.77,837.64 L599.30,839.39 L600.83,841.13 L602.36,842.87 L603.89,844.61 L605.43,846.36 L606.96,848.10 L608.49,849.84 L610.02,851.58 L611.55,853.33 L613.08,855.07 L614.61,856.81 L616.15,858.55 L617.68,860.30 L619.21,862.04 L620.74,863.78 L622.27,865.52 L623.80,867.26 L625.34,869.01 L626.87,870.75 L628.40,872.49 L629.93,874.23 L631.46,875.98 L632.99,877.72 L634.53,879.46 L636.06,881.20 L637.59,882.95 L639.12,884.69 L640.65,886.43 L642.18,888.17 L643.72,889.92 L645.25,891.66 L646.78,893.40 L648.31,895.14 L649.84,896.88 L651.37,898.63 L652.90,900.37 L654.44,902.11 L655.97,903.85 L657.50,905.60 L659.03,907.34 L660.56,909.08 L662.09,910.82 L663.63,912.57 L665.16,914.31 L666.69,916.05 L668.22,917.79 L669.75,919.54 L671.28,921.28 L672.82,923.02 L674.35,924.76 L675.88,926.51 L677.41,928.25 L678.94,929.99 L680.47,931.73 L682.01,933.47 L683.54,935.22 L685.07,936.96 L686.60,938.70 L688.13,940.44 L689.66,942.19 L691.20,943.93 L692.73,945.67 L694.26,947.41 L695.79,949.16 L697.32,950.90 L698.85,952.64 L700.38,954.38 L701.92,956.13 L703.45,957.87 L704.98,959.61 L706.51,961.35 L708.04,963.09 L709.57,964.84 L711.11,966.58 L712.64,968.32 L714.17,970.06 L715.70,971.81 L717.23,973.55 L718.76,975.29 L720.30,977.03 L721.83,978.78 L723.36,980.52 L724.89,982.26 L726.42,984.00 L727.95,985.75 L729.49,987.49 L731.02,989.23 L732.55,990.97 L734.08,992.72 L735.61,994.46 L737.14,996.20" fill="none" stroke="#0000ff" stroke-width="3" stroke-dasharray="6 8.42"/>
<path d="M232.09,996.20 L233.38,993.60 L234.67,991.01 L235.96,988.44 L237.24,985.88 L238.53,983.34 L239.82,980.81 L241.11,978.29 L242.40,975.78 L243.69,973.29 L244.97,970.81 L246.26,968.34 L247.55,965.89 L248.84,963.45 L250.13,961.03 L251.42,958.62 L252.70,956.22 L253.99,953.83 L255.28,951.46 L256.57,949.10 L257.86,946.76 L259.14,944.43 L260.43,942.11 L261.72,939.80 L263.01,937.51 L264.30,935.24 L265.59,932.97 L266.87,930.72 L268.16,928.48 L269.45,926.26 L270.74,924.05 L272.03,921.85 L273.32,919.66 L274.60,917.49 L275.89,915.34 L277.18,913.19 L278.47,911.06 L279.76,908.94 L281.05,906.84 L282.33,904.75 L283.62,902.67 L284.91,900.61 L286.20,898.56 L287.49,896.52 L288.78,894.50 L290.06,892.49 L291.35,890.49 L292.64,888.51 L293.93,886.54 L295.22,884.58 L296.50,882.64 L297.79,880.71 L299.08,878.79 L300.37,876.89 L301.66,875.00 L302.95,873.12 L304.23,871.26 L305.52,869.41 L306.81,867.58 L308.10,865.75 L309.39,863.94 L310.68,862.15 L311.96,860.37 L313.25,858.60 L314.54,856.84 L315.83,855.10 L317.12,853.37 L318.41,851.65 L319.69,849.95 L320.98,848.26 L322.27,846.59 L323.56,844.93 L324.85,843.28 L326.14,841.64 L327.42,840.02 L328.71,838.41 L330.00,836.82 L331.29,835.23 L332.58,833.67 L333.86,832.11 L335.15,830.57 L336.44,829.04 L337.73,827.53 L339.02,826.03 L340.31,824.54 L341.59,823.06 L342.88,821.60 L344.17,820.15 L345.46,818.72 L346.75,817.30 L348.04,815.89 L349.32,814.50 L350.61,813.12 L351.90,811.75 L353.19,810.40 L354.48,809.05 L355.77,807.73 L357.05,806.41 L358.34,805.11 L359.63,803.83 L360.92,802.55 L362.21,801.29 L363.50,800.04 L364.78,798.81 L366.07,797.59 L367.36,796.38 L368.65,795.19 L369.94,794.01 L371.22,792.84 L372.51,791.69 L373.80,790.55 L375.09,789.43 L376.38,788.31 L377.67,787.21 L378.95,786.13 L380.24,785.05 L381.53,783.99 L382.82,782.95 L384.11,781.92 L385.40,780.90 L386.68,779.89 L387.97,778.90 L389.26,777.92 L390.55,776.95 L391.84,776.00 L393.13,775.06 L394.41,774.14 L395.70,773.22 L396.99,772.32 L398.28,771.44 L399.57,770.57 L400.85,769.71 L402.14,768.86 L403.43,768.03 L404.72,767.21 L406.01,766.41 L407.30,765.62 L408.58,764.84 L409.87,764.07 L411.16,763.32 L412.45,762.58 L413.74,761.86 L415.03,761.15 L416.31,760.45 L417.60,759.76 L418.89,759.09 L420.18,758.44 L421.47,757.79 L422.76,757.16 L424.04,756.54 L425.33,755.94 L426.62,755.35 L427.91,754.77 L429.20,754.21 L430.49,753.66 L431.77,753.12 L433.06,752.59 L434.35,752.08 L435.64,751.59 L436.93,751.10 L438.21,750.63 L439.50,750.18 L440.79,749.73 L442.08,749.30 L443.37,748.89 L444.66,748.48 L445.94,748.09 L447.23,747.72 L448.52,747.35 L449.81,747.00 L451.10,746.67 L452.39,746.34 L453.67,746.03 L454.96,745.74 L456.25,745.45 L457.54,745.18 L458.83,744.93 L460.12,744.69 L461.40,744.46 L462.69,744.24 L463.98,744.04 L465.27,743.85 L466.56,743.67 L467.85,743.51 L469.13,743.36 L470.42,743.23 L471.71,743.10 L473.00,743.00 L474.29,742.90 L475.57,742.82 L476.86,742.75 L478.15,742.69 L479.44,742.65 L480.73,742.62 L482.02,742.61 L483.30,742.61 L484.59,742.62 L485.88,742.64 L487.17,742.68 L488.46,742.73 L489.75,742.80 L491.03,742.88 L492.32,742.97 L493.61,743.08 L494.90,743.19 L496.19,743.33 L497.48,743.47 L498.76,743.63 L500.05,743.80 L501.34,743.99 L502.63,744.19 L503.92,744.40 L505.20,744.63 L506.49,744.87 L507.78,745.12 L509.07,745.38 L510.36,745.66 L511.65,745.96 L512.93,746.26 L514.22,746.58 L515.51,746.92 L516.80,747.26 L518.09,747.62 L519.38,748.00 L520.66,748.38 L521.95,748.78 L523.24,749.20 L524.53,749.62 L525.82,750.06 L527.11,750.52 L528.39,750.98 L529.68,751.46 L530.97,751.96 L532.26,752.46 L533.55,752.98 L534.84,753.52 L536.12,754.07 L537.41,754.63 L538.70,755.20 L539.99,755.79 L541.28,756.39 L542.56,757.00 L543.85,757.63 L545.14,758.27 L546.43,758.93 L547.72,759.59 L549.01,760.27 L550.29,760.97 L551.58,761.68 L552.87,762.40 L554.16,763.13 L555.45,763.88 L556.74,764.64 L558.02,765.42 L559.31,766.21 L560.60,767.01 L561.89,767.82 L563.18,768.65 L564.47,769.49 L565.75,770.35 L567.04,771.22 L568.33,772.10 L569.62,772.99 L570.91,773.90 L572.20,774.83 L573.48,775.76 L574.77,776.71 L576.06,777.67 L577.35,778.65 L578.64,779.64 L579.92,780.64 L581.21,781.66 L582.50,782.69 L583.79,783.73 L585.08,784.78 L586.37,785.85 L587.65,786.94 L588.94,788.03 L590.23,789.14 L591.52,790.27 L592.81,791.74 L594.10,793.26 L595.38,794.78 L596.67,796.31 L597.96,797.83 L599.25,799.35 L600.54,800.87 L601.83,802.39 L603.11,803.91 L604.40,805.44 L605.69,806.96 L606.98,808.48 L608.27,810.00 L609.55,811.52 L610.84,813.05 L612.13,814.57 L613.42,816.09 L614.71,817.61 L616.00,819.13 L617.28,820.66 L618.57,822.18 L619.86,823.70 L621.15,825.22 L622.44,826.74 L623.73,828.27 L625.01,829.79 L626.30,831.31 L627.59,832.83 L628.88,834.35 L630.17,835.88 L631.46,837.40 L632.74,838.92 L634.03,840.44 L635.32,841.96 L636.61,843.48 L637.90,845.01 L639.19,846.53 L640.47,848.05 L641.76,849.57 L643.05,851.09 L644.34,852.62 L645.63,854.14 L646.91,855.66 L648.20,857.18 L649.49,858.70 L650.78,860.23 L652.07,861.75 L653.36,863.27 L654.64,864.79 L655.93,866.31 L657.22,867.84 L658.51,869.36 L659.80,870.88 L661.09,872.40 L662.37,873.92 L663.66,875.44 L664.95,876.97 L666.24,878.49 L667.53,880.01 L668.82,881.53 L670.10,883.05 L671.39,884.58 L672.68,886.10 L673.97,887.62 L675.26,889.14 L676.55,890.66 L677.83,892.19 L679.12,893.71 L680.41,895.23 L681.70,896.75 L682.99,898.27 L684.27,899.80 L685.56,901.32 L686.85,902.84 L688.14,904.36 L689.43,905.88 L690.72,907.41 L692.00,908.93 L693.29,910.45 L694.58,911.97 L695.87,913.49 L697.16,915.01 L698.45,916.54 L699.73,918.06 L701.02,919.58 L702.31,921.10 L703.60,922.62 L704.89,924.15 L706.18,925.67 L707.46,927.19 L708.75,928.71 L710.04,930.23 L711.33,931.76 L712.62,933.28 L713.90,934.80 L715.19,936.32 L716.48,937.84 L717.77,939.37 L719.06,940.89 L720.35,942.41 L721.63,943.93 L722.92,945.45 L724.21,946.97 L725.50,948.50 L726.79,950.02 L728.08,951.54 L729.36,953.06 L730.65,954.58 L731.94,956.11 L733.23,957.63 L734.52,959.15 L735.81,960.67 L737.09,962.19 L738.38,963.72 L739.67,965.24 L740.96,966.76 L742.25,968.28 L743.54,969.80 L744.82,971.33 L746.11,972.85 L747.40,974.37" fill="none" stroke="#ff0000" stroke-width="3" stroke-dasharray="11.5 5.81"/>
</g>
<path d="M124.50,96.52 h6.30 M747.40,96.52 h-6.30 M124.50,232.79 h6.30 M747.40,232.79 h-6.30 M124.50,328.04 h3.20 M747.40,328.04 h-3.20 M124.50,304.05 h3.20 M747.40,304.05 h-3.20 M124.50,287.02 h3.20 M747.40,287.02 h-3.20 M124.50,273.82 h3.20 M747.40,273.82 h-3.20 M124.50,263.03 h3.20 M747.40,263.03 h-3.20 M124.50,253.90 h3.20 M747.40,253.90 h-3.20 M124.50,246.00 h3.20 M747.40,246.00 h-3.20 M124.50,239.03 h3.20 M747.40,239.03 h-3.20 M124.50,191.77 h3.20 M747.40,191.77 h-3.20 M124.50,167.78 h3.20 M747.40,167.78 h-3.20 M124.50,150.75 h3.20 M747.40,150.75 h-3.20 M124.50,137.54 h3.20 M747.40,137.54 h-3.20 M124.50,126.75 h3.20 M747.40,126.75 h-3.20 M124.50,117.63 h3.20 M747.40,117.63 h-3.20 M124.50,109.73 h3.20 M747.40,109.73 h-3.20 M124.50,102.76 h3.20 M747.40,102.76 h-3.20 M124.50,410.09 h6.30 M747.40,410.09 h-6.30 M124.50,546.36 h6.30 M747.40,546.36 h-6.30 M124.50,641.61 h3.20 M747.40,641.61 h-3.20 M124.50,617.61 h3.20 M747.40,617.61 h-3.20 M124.50,600.59 h3.20 M747.40,600.59 h-3.20 M124.50,587.38 h3.20 M747.40,587.38 h-3.20 M124.50,576.59 h3.20 M747.40,576.59 h-3.20 M124.50,567.47 h3.20 M747.40,567.47 h-3.20 M124.50,559.57 h3.20 M747.40,559.57 h-3.20 M124.50,552.60 h3.20 M747.40,552.60 h-3.20 M124.50,505.34 h3.20 M747.40,505.34 h-3.20 M124.50,481.34 h3.20 M747.40,481.34 h-3.20 M124.50,464.32 h3.20 M747.40,464.32 h-3.20 M124.50,451.11 h3.20 M747.40,451.11 h-3.20 M124.50,440.32 h3.20 M747.40,440.32 h-3.20 M124.50,431.20 h3.20 M747.40,431.20 h-3.20 M124.50,423.29 h3.20 M747.40,423.29 h-3.20 M124.50,416.32 h3.20 M747.40,416.32 h-3.20 M124.50,723.66 h6.30 M747.40,723.66 h-6.30 M124.50,859.93 h6.30 M747.40,859.93 h-6.30 M124.50,955.18 h3.20 M747.40,955.18 h-3.20 M124.50,931.18 h3.20 M747.40,931.18 h-3.20 M124.50,914.16 h3.20 M747.40,914.16 h-3.20 M124.50,900.95 h3.20 M747.40,900.95 h-3.20 M124.50,890.16 h3.20 M747.40,890.16 h-3.20 M124.50,881.04 h3.20 M747.40,881.04 h-3.20 M124.50,873.13 h3.20 M747.40,873.13 h-3.20 M124.50,866.16 h3.20 M747.40,866.16 h-3.20 M124.50,818.91 h3.20 M747.40,818.91 h-3.20 M124.50,794.91 h3.20 M747.40,794.91 h-3.20 M124.50,777.88 h3.20 M747.40,777.88 h-3.20 M124.50,764.68 h3.20 M747.40,764.68 h-3.20 M124.50,753.89 h3.20 M747.40,753.89 h-3.20 M124.50,744.76 h3.20 M747.40,744.76 h-3.20 M124.50,736.86 h3.20 M747.40,736.86 h-3.20 M124.50,729.89 h3.20 M747.40,729.89 h-3.20 M202.36,55.50 v6.30 M202.36,996.20 v-6.30 M202.36,362.77 v12.60 M202.36,676.33 v12.60 M280.23,55.50 v6.30 M280.23,996.20 v-6.30 M280.23,362.77 v12.60 M280.23,676.33 v12.60 M358.09,55.50 v6.30 M358.09,996.20 v-6.30 M358.09,362.77 v12.60 M358.09,676.33 v12.60 M435.95,55.50 v6.30 M435.95,996.20 v-6.30 M435.95,362.77 v12.60 M435.95,676.33 v12.60 M513.81,55.50 v6.30 M513.81,996.20 v-6.30 M513.81,362.77 v12.60 M513.81,676.33 v12.60 M591.67,55.50 v6.30 M591.67,996.20 v-6.30 M591.67,362.77 v12.60 M591.67,676.33 v12.60 M669.54,55.50 v6.30 M669.54,996.20 v-6.30 M669.54,362.77 v12.60 M669.54,676.33 v12.60" fill="none" stroke="#000" stroke-width="2.7"/>
<rect x="124.50" y="55.50" width="622.90" height="940.70" fill="none" stroke="#000" stroke-width="3"/>
<line x1="124.50" y1="369.07" x2="747.40" y2="369.07" stroke="#000" stroke-width="3"/>
<line x1="124.50" y1="682.63" x2="747.40" y2="682.63" stroke="#000" stroke-width="3"/>
<g font-family="'Liberation Serif', serif" font-size="21.0" fill="#000">
<text x="111.8" y="102.42" text-anchor="end">1</text>
<text x="111.8" y="238.69" text-anchor="end">0.1</text>
<text x="111.8" y="374.97" text-anchor="end">0.01</text>
<text x="631.6" y="101.90" textLength="76.3" lengthAdjust="spacing" font-size="22">(a) NRF</text>
<g transform="translate(29,239.78) rotate(-90)">
<text x="0" y="0" font-style="italic" font-size="20.3">p</text>
<text x="10.4" y="7" font-size="12.2" letter-spacing="0.45">log</text>
<text x="29.2" y="7" font-size="12">(</text>
<text x="35.2" y="7" font-size="13.2" font-style="italic">M</text>
<text x="48.4" y="7" font-size="12">)</text>
</g>
<text x="111.8" y="415.99" text-anchor="end">1</text>
<text x="111.8" y="552.26" text-anchor="end">0.1</text>
<text x="111.8" y="688.53" text-anchor="end">0.01</text>
<text x="631.6" y="415.47" textLength="75.4" lengthAdjust="spacing" font-size="22">(b) ERF</text>
<g transform="translate(29,553.35) rotate(-90)">
<text x="0" y="0" font-style="italic" font-size="20.3">p</text>
<text x="10.4" y="7" font-size="12.2" letter-spacing="0.45">log</text>
<text x="29.2" y="7" font-size="12">(</text>
<text x="35.2" y="7" font-size="13.2" font-style="italic">M</text>
<text x="48.4" y="7" font-size="12">)</text>
</g>
<text x="111.8" y="729.56" text-anchor="end">1</text>
<text x="111.8" y="865.83" text-anchor="end">0.1</text>
<text x="111.8" y="1002.10" text-anchor="end">0.01</text>
<text x="631.6" y="729.03" textLength="72.1" lengthAdjust="spacing" font-size="22">(c) CRF</text>
<g transform="translate(29,866.92) rotate(-90)">
<text x="0" y="0" font-style="italic" font-size="20.3">p</text>
<text x="10.4" y="7" font-size="12.2" letter-spacing="0.45">log</text>
<text x="29.2" y="7" font-size="12">(</text>
<text x="35.2" y="7" font-size="13.2" font-style="italic">M</text>
<text x="48.4" y="7" font-size="12">)</text>
</g>
<text x="123.90" y="1022.9" text-anchor="middle">-3.0</text>
<text x="201.76" y="1022.9" text-anchor="middle">-2.5</text>
<text x="279.62" y="1022.9" text-anchor="middle">-2.0</text>
<text x="357.49" y="1022.9" text-anchor="middle">-1.5</text>
<text x="435.35" y="1022.9" text-anchor="middle">-1.0</text>
<text x="513.21" y="1022.9" text-anchor="middle">-0.5</text>
<text x="591.67" y="1022.9" text-anchor="middle">0.0</text>
<text x="669.54" y="1022.9" text-anchor="middle">0.5</text>
<text x="747.40" y="1022.9" text-anchor="middle">1.0</text>
<text x="380.4" y="1054.4" font-size="21">log</text>
<text x="407.6" y="1054.4" font-size="21">(</text>
<text transform="translate(414.3,1054.4) scale(1.17,1)" font-size="21" font-style="italic">M</text>
<line x1="437.9" y1="1059.3" x2="445.6" y2="1039.2" stroke="#000" stroke-width="1.3"/>
<text x="447.2" y="1054.4" font-size="21">M</text>
<text x="484.2" y="1054.4" font-size="21">)</text>
</g>
<circle cx="474.05" cy="1054.2" r="6.7" fill="none" stroke="#000" stroke-width="0.9"/>
<circle cx="474.05" cy="1054.2" r="1.5" fill="#000"/>
</svg>
</body></html>
